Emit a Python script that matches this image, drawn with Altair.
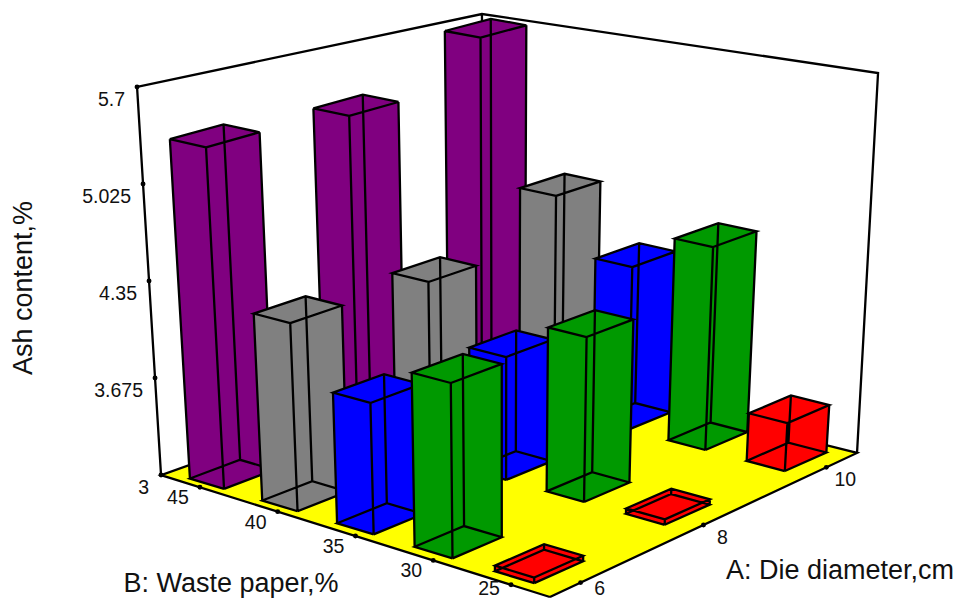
import numpy as np
import altair as alt

# ---- values ----
die_levels = [6, 8, 10]
paper_levels = [45, 40, 35, 30, 25]
ash_45 = [5.41, 5.35, 5.64]
ash_40 = [4.347, 4.306, 4.619]
ash_35 = [3.938, 3.906, 4.226]
ash_30 = [4.225, 4.191, 4.50]
ash_25 = [3.04, 3.04, 3.36]
bar_colors = ["#800080", "#808080", "#0000ff", "#009900", "#ff0000"]
ash_ticks = [3, 3.675, 4.35, 5.025, 5.7]
ash_tick_labels = ["3", "3.675", "4.35", "5.025", "5.7"]

A_RANGE = (5.5, 10.5)
B_RANGE = (22.5, 47.5)
Z_RANGE = (3.0, 5.7)
HALF_A, HALF_B = 0.365, 1.19
MARGIN = 8

# ---- camera calibration: world point -> page position ----
corners = [
    ((5.5, 47.5, 3.0), (161, 475)), ((5.5, 47.5, 5.7), (137, 87)),
    ((5.5, 22.5, 3.0), (550, 597)), ((10.5, 22.5, 3.0), (857, 453)),
    ((10.5, 22.5, 5.7), (878, 73)), ((10.5, 47.5, 5.7), (482, 14)),
]
bar_feet = [
    ((6, 45, 3.0), (232.5, 473)), ((6, 40, 3.0), (304.5, 496)), ((6, 35, 3.0), (380, 518.5)),
    ((6, 30, 3.0), (458, 543)), ((6, 25, 3.0), (541, 566)),
    ((8, 30, 3.0), (590, 491)), ((8, 25, 3.0), (664, 507)),
    ((10, 30, 3.0), (707, 435.5)), ((10, 25, 3.0), (788.5, 456)),
]


def fit(weighted):
    M, r = [], []
    for pts, w in weighted:
        for (X, Y, Z), (u, v) in pts:
            M.append([w * c for c in [X, Y, Z, 1, 0, 0, 0, 0, -u * X, -u * Y, -u * Z]]); r.append(w * u)
            M.append([w * c for c in [0, 0, 0, 0, X, Y, Z, 1, -v * X, -v * Y, -v * Z]]); r.append(w * v)
    p = np.linalg.lstsq(np.array(M, float), np.array(r, float), rcond=None)[0]
    return np.append(p, 1).reshape(3, 4)


P_BOX = fit([(corners, 1)])
P_BAR = fit([(corners, 1), (bar_feet, 4)])


def proj(a, b, z, P=P_BAR):
    h = P @ np.array([a, b, z, 1.0])
    return [float(h[0] / h[2] - MARGIN), float(h[1] / h[2] - MARGIN)]


def box(a, b, z):
    return proj(a, b, z, P_BOX)


# ---- geometry built from the values ----
features = []


def add_poly(pts, fill):
    ring = pts + [pts[0]]
    features.append({"type": "Feature", "geometry": {"type": "Polygon", "coordinates": [ring]},
                     "properties": {"fill": fill, "stroke": "none", "sw": 0}})


def add_lines(lines, sw=2.3):
    features.append({"type": "Feature", "geometry": {"type": "MultiLineString", "coordinates": lines},
                     "properties": {"fill": "none", "stroke": "black", "sw": sw}})


a0, a1 = A_RANGE
b0, b1 = B_RANGE
z0, z1 = Z_RANGE
add_poly([box(a0, b0, z0), box(a1, b0, z0), box(a1, b1, z0), box(a0, b1, z0)], "#ffff00")
add_lines([
    [box(a0, b0, z0), box(a1, b0, z0), box(a1, b1, z0), box(a0, b1, z0), box(a0, b0, z0)],
    [box(a0, b1, z0), box(a0, b1, z1), box(a1, b1, z1), box(a1, b0, z1), box(a1, b0, z0)],
    [box(a1, b1, z0), box(a1, b1, z1)],
])

series = dict(zip(paper_levels, [ash_45, ash_40, ash_35, ash_30, ash_25]))
color_of = dict(zip(paper_levels, bar_colors))
for ai in reversed(range(len(die_levels))):
    for b in paper_levels:
        a = die_levels[ai]
        z = series[b][ai]
        c = color_of[b]
        al, ah = a - HALF_A, a + HALF_A
        bl, bh = b - HALF_B, b + HALF_B
        cor = [(al, bl), (ah, bl), (ah, bh), (al, bh)]
        bot = [proj(x, y, z0) for x, y in cor]
        top = [proj(x, y, z) for x, y in cor]
        add_poly(bot, c)
        add_poly(top, c)
        for i in range(4):
            j = (i + 1) % 4
            add_poly([bot[i], bot[j], top[j], top[i]], c)
        edges = [bot + [bot[0]], top + [top[0]]] + [[bot[i], top[i]] for i in range(4)]
        add_lines(edges)

W, H = 945, 591
LABEL_MAX_Y = 581


def flat(chart):
    return chart.project(type="identity", scale=1, translate=[0, 0])


shapes = flat(alt.Chart(alt.Data(values=features)).mark_geoshape().encode(
    fill=alt.Fill("properties.fill:N", scale=None),
    stroke=alt.Stroke("properties.stroke:N", scale=None),
    strokeWidth=alt.StrokeWidth("properties.sw:Q", scale=None),
))


def lerp(p0, p1, t):
    return [p0[0] + (p1[0] - p0[0]) * t, p0[1] + (p1[1] - p0[1]) * t]


z_rows = [(lerp(box(a0, b1, z0), box(a0, b1, z1), (t - z0) / (z1 - z0)), s)
          for t, s in zip(ash_ticks, ash_tick_labels)]
b_rows = [(lerp(box(a0, b0, z0), box(a0, b1, z0), (b - b0) / (b1 - b0)), str(b)) for b in paper_levels]
a_rows = [(lerp(box(a0, b0, z0), box(a1, b0, z0), (a - a0) / (a1 - a0)), str(a)) for a in die_levels]


def tick_layers(rows, align, dx, dy):
    dot_rows = [{"lon": q[0], "lat": q[1]} for q, _ in rows]
    txt_rows = [{"lon": q[0] + dx, "lat": min(q[1] + dy, LABEL_MAX_Y), "t": s} for q, s in rows]
    dots = flat(alt.Chart(alt.Data(values=dot_rows)).mark_circle(size=24, color="black", opacity=1)
                .encode(longitude="lon:Q", latitude="lat:Q"))
    text = flat(alt.Chart(alt.Data(values=txt_rows)).mark_text(
        align=align, baseline="middle", font="Liberation Sans", fontSize=19.5, color="#111111",
    ).encode(longitude="lon:Q", latitude="lat:Q", text="t:N"))
    return [dots, text]


def title(txt, x, y, angle=0, size=27):
    return alt.Chart(alt.Data(values=[{"t": txt}])).mark_text(
        align="center", baseline="middle", font="Liberation Sans", fontSize=size,
        color="#111111", angle=angle,
    ).encode(text="t:N", x=alt.value(x - MARGIN), y=alt.value(y - MARGIN))


layers = [shapes]
layers += tick_layers(z_rows, "right", -12, 13)
layers += tick_layers(b_rows, "center", -22, 11)
layers += tick_layers(a_rows, "center", 19, 13)
layers += [title("Ash content,%", 24, 288, 270), title("B: Waste paper,%", 231, 584),
           title("A: Die diameter,cm", 840, 571)]

chart = alt.layer(*layers).properties(
    width=W, height=H, padding=0, autosize=alt.AutoSizeParams(type="none"),
).configure_view(stroke=None)

chart.save("out.html", embed_options={"renderer": "svg", "actions": False})
